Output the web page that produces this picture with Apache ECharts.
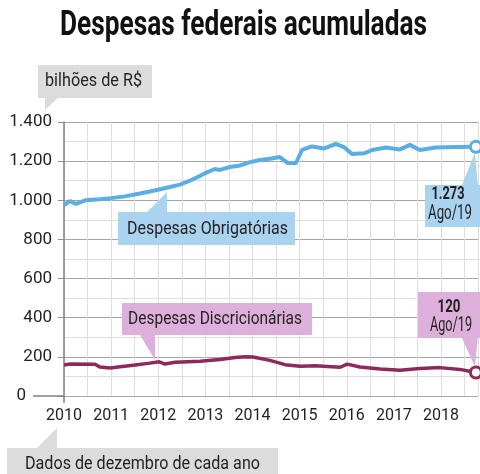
<!DOCTYPE html>
<html>
<head>
<meta charset="utf-8">
<script src="https://cdn.jsdelivr.net/npm/echarts@6/dist/echarts.min.js"></script>
<style>
html,body{margin:0;padding:0;background:#fff;}
#c{width:480px;height:474px;}
</style>
</head>
<body>
<div id="c"></div>
<script>
// ---- data ----
var titleText = 'Despesas federais acumuladas';
var unitText = 'bilhões de R$';
var noteText = 'Dados de dezembro de cada ano';
var yearTicks = [2010, 2011, 2012, 2013, 2014, 2015, 2016, 2017, 2018];
var yTicks = [0, 200, 400, 600, 800, 1000, 1200, 1400];

var obrigName = 'Despesas Obrigatórias';
var obrigTime = [2010.00,2010.13,2010.25,2010.45,2010.76,2011.00,2011.29,2011.61,2011.82,2012.02,2012.25,2012.46,2012.67,2012.89,2013.01,2013.20,2013.31,2013.52,2013.74,2013.95,2014.16,2014.37,2014.58,2014.75,2014.92,2015.05,2015.26,2015.52,2015.77,2015.94,2016.11,2016.37,2016.54,2016.83,2017.13,2017.34,2017.55,2017.89,2018.32,2018.74];
var obrigValues = [976,996,981,1000,1005,1011,1020,1035,1045,1055,1068,1080,1100,1125,1140,1160,1155,1170,1178,1195,1206,1212,1221,1190,1190,1257,1275,1265,1288,1272,1236,1240,1257,1270,1260,1283,1257,1270,1272,1273];

var discName = 'Despesas Discricionárias';
var discTime = [2010.00,2010.13,2010.66,2010.76,2010.98,2011.19,2011.51,2011.82,2012.02,2012.14,2012.36,2012.89,2013.31,2013.63,2013.84,2014.01,2014.37,2014.69,2015.01,2015.33,2015.86,2016.01,2016.28,2016.71,2017.13,2017.55,2017.98,2018.40,2018.74];
var discValues = [158,163,162,148,143,150,158,168,175,163,172,178,186,197,201,199,182,160,152,155,147,163,148,138,131,140,145,136,120];

var lastLabel = 'Ago/19';

// ---- styles ----
var FONT = 'Roboto, "Noto Sans", sans-serif';
var TXT = '#231f20';
var BLUE = '#5aaee3', BLUE_BOX = '#a9d3ee';
var PURPLE = '#8c2a5c', PURPLE_BOX = '#dcb0da';
var GRAY_BOX = '#dcdcdc';

function fmt(v){
  var s = String(Math.round(v));
  return s.replace(/\B(?=(\d{3})+(?!\d))/g, '.');
}
function pairs(t, v, color){
  return t.map(function(x, i){
    if (i === t.length - 1) {
      return {value:[x, v[i]], symbol:'circle', symbolSize:11,
        itemStyle:{color:'#fff', borderColor:color, borderWidth:3}};
    }
    return [x, v[i]];
  });
}
var mctx = document.createElement('canvas').getContext('2d');
function measure(s, size, bold){
  mctx.font = (bold ? 'bold ' : '') + size + 'px ' + FONT;
  return mctx.measureText(s).width;
}

var chart = echarts.init(document.getElementById('c'), null, {renderer:'canvas'});
var option = {
  backgroundColor:'#fff',
  animation:false,
  grid:{left:64, right:2, top:122, bottom:78, containLabel:false},
  xAxis:{type:'value', min:2010, max:2018.785, interval:0.5,
    axisLine:{show:false}, axisTick:{show:false},
    splitLine:{show:true, lineStyle:{color:'#dedede', width:1}},
    axisLabel:{showMaxLabel:false, margin:12, fontFamily:FONT, fontSize:16, color:TXT,
      formatter:function(v){ return yearTicks.indexOf(v) >= 0 ? String(v) : ''; }}
  },
  yAxis:{type:'value', min:yTicks[0], max:yTicks[yTicks.length-1], interval:200,
    axisLine:{show:true, lineStyle:{color:'#808080', width:1.5}},
    axisTick:{show:true, length:6, lineStyle:{color:'#909090'}},
    splitLine:{show:true, lineStyle:{color:'#a5a5a5', width:1.2}},
    minorTick:{show:false, splitNumber:2},
    minorSplitLine:{show:true, lineStyle:{color:'#dedede', width:1}},
    axisLabel:{margin:12, fontFamily:FONT, fontSize:17, color:TXT,
      formatter:function(v){ return v === 0 ? '{zero|0}' : fmt(v); },
      rich:{zero:{fontFamily:FONT, fontSize:17, color:TXT, padding:[0,26,0,0]}}}
  },
  series:[
    {name:obrigName, type:'line', symbol:'none', showSymbol:true, z:3,
     lineStyle:{color:BLUE, width:4}, itemStyle:{color:BLUE},
     data:pairs(obrigTime, obrigValues, BLUE)},
    {name:discName, type:'line', symbol:'none', showSymbol:true, z:3,
     lineStyle:{color:PURPLE, width:3.5}, itemStyle:{color:PURPLE},
     data:pairs(discTime, discValues, PURPLE)}
  ]
};
chart.setOption(option);

var pBlue = chart.convertToPixel({gridIndex:0}, [obrigTime[obrigTime.length-1], obrigValues[obrigValues.length-1]]);
var pPur = chart.convertToPixel({gridIndex:0}, [discTime[discTime.length-1], discValues[discValues.length-1]]);
var p0 = chart.convertToPixel({gridIndex:0}, [2010, 0]);

function poly(points, fill){
  return {type:'polygon', shape:{points:points}, style:{fill:fill}, z:10, silent:true};
}
// text fitted to a target width (condensed look)
function txt(cx, cy, s, size, width, bold, color){
  var w = measure(s, size, bold);
  var sx = width / w;
  return {type:'text', x:cx, y:cy, scaleX:sx, z:11, silent:true,
    style:{text:s, fontFamily:FONT, fontSize:size, fontWeight:bold?'bold':'normal',
      fill:color||TXT, align:'center', verticalAlign:'middle'}};
}
var bx = pBlue[0], by = pBlue[1];
var ux = pPur[0], uy = pPur[1];
chart.setOption({graphic:[
  txt(243.5, 26, titleText, 35, 367, true, '#111'),
  {type:'line', shape:{x1:33, y1:p0[1], x2:p0[0], y2:p0[1]}, style:{stroke:'#808080', lineWidth:1.5}, z:5},
  {type:'line', shape:{x1:p0[0], y1:p0[1], x2:p0[0], y2:p0[1]+7}, style:{stroke:'#808080', lineWidth:1.5}, z:5},
  poly([[38,65],[152,65],[152,98],[58,98],[45,110],[45,98],[38,98]], GRAY_BOX),
  txt(93.5, 81, unitText, 18, 97),
  poly([[7,448],[37,448],[p0[0]-7,428],[p0[0]-7,448],[278,448],[278,474],[7,474]], GRAY_BOX),
  txt(142.5, 464, noteText, 18, 235),
  poly([[118,212],[147,212],[167,192],[167,212],[295,212],[295,245],[118,245]], BLUE_BOX),
  txt(207.5, 229, obrigName, 18, 161),
  poly([[122,303],[312,303],[312,335],[155,335],[155,360],[140,335],[122,335]], PURPLE_BOX),
  txt(215, 319, discName, 19, 174),
  poly([[425,185],[462,185],[bx-1,by+6],[bx+2,185],[480,185],[480,227],[425,227]], BLUE_BOX),
  txt(448, 194, fmt(obrigValues[obrigValues.length-1]), 19, 33, true),
  txt(450, 214, lastLabel, 20, 44),
  poly([[418,292],[480,292],[480,338],[ux+2,338],[ux-1,uy-6],[462,338],[418,338]], PURPLE_BOX),
  txt(449, 307, fmt(discValues[discValues.length-1]), 19, 23, true),
  txt(451, 326, lastLabel, 20, 42)
]});
</script>
</body>
</html>
